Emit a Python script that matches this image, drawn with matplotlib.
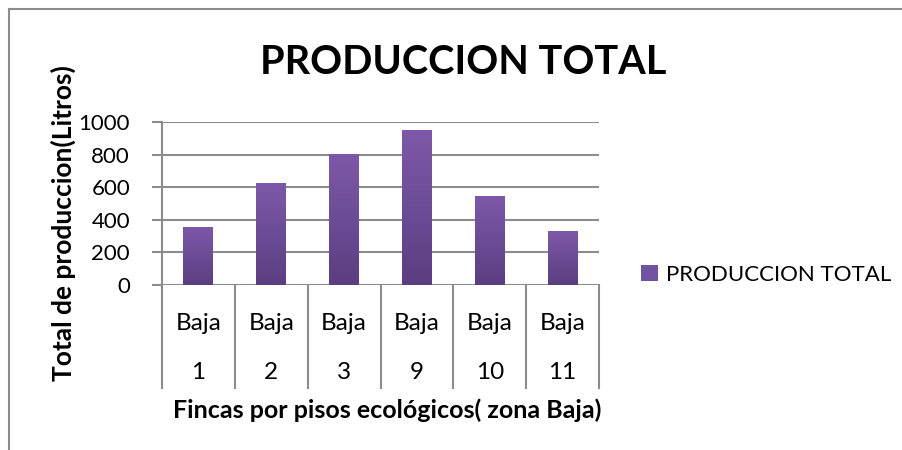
import numpy as np
import matplotlib
matplotlib.use("Agg")
import matplotlib.pyplot as plt
from matplotlib.colors import LinearSegmentedColormap
from matplotlib.lines import Line2D
from matplotlib.patches import Patch

plt.rcParams['font.family'] = ['Lato', 'DejaVu Sans']

zona = ["Baja", "Baja", "Baja", "Baja", "Baja", "Baja"]
fincas = ["1", "2", "3", "9", "10", "11"]
produccion = [350, 625, 800, 950, 540, 330]
y_ticks = [0, 200, 400, 600, 800, 1000]

fig = plt.figure(figsize=(9.02, 4.5), dpi=100)
ax = fig.add_axes([0.1796, 0.3667, 0.4845, 0.3622])

x = np.arange(len(fincas))
bars = ax.bar(x, produccion, width=0.41, color="#7152A0", zorder=3)

# vertical gradient inside each bar
cmap = LinearSegmentedColormap.from_list("morado", ["#5B3E80", "#6C4C96", "#7E58A8"])
grad = np.linspace(0, 1, 100).reshape(-1, 1)
for b in bars:
    x0, w, h = b.get_x(), b.get_width(), b.get_height()
    ax.imshow(grad, extent=[x0, x0 + w, 0, h], origin="lower", cmap=cmap,
              aspect="auto", zorder=4)

ax.set_xlim(-0.5, len(fincas) - 0.5)
ax.set_ylim(0, 1000)
ax.set_yticks(y_ticks)
ax.set_yticklabels([str(v) for v in y_ticks], fontsize=16)
ax.tick_params(axis="y", length=7, width=1.5, color="#8c8c8c", pad=16)
ax.set_xticks([])
ax.grid(axis="y", color="#8c8c8c", linewidth=1.5, zorder=1)
for s in ["top", "right", "bottom"]:
    ax.spines[s].set_visible(False)
ax.spines["left"].set_color("#8c8c8c")
ax.spines["left"].set_linewidth(1.5)

# category separators and two-level labels below the axis
trans = ax.get_xaxis_transform()
for xb in np.arange(-0.5, len(fincas), 1.0):
    ax.add_line(Line2D([xb, xb], [0, -0.63], transform=trans, color="#8c8c8c",
                       linewidth=1.5, clip_on=False))
for i in range(len(fincas)):
    ax.text(x[i], -0.235, zona[i], transform=trans, ha="center", va="center", fontsize=17.5)
    ax.text(x[i], -0.54, fincas[i], transform=trans, ha="center", va="center", fontsize=17.5)

fig.text(0.429, 0.089, "Fincas por pisos ecológicos( zona Baja)", ha="center", va="center",
         fontsize=18, fontweight="bold")
fig.text(0.07, 0.504, "Total de produccion(Litros)", ha="center", va="center",
         rotation=90, fontsize=19, fontweight="bold")
fig.text(0.513, 0.862, "PRODUCCION TOTAL", ha="center", va="center",
         fontsize=28.5, fontweight="bold")

fig.legend(handles=[Patch(facecolor="#7152A0", label="PRODUCCION TOTAL")],
           loc="center left", bbox_to_anchor=(0.711, 0.389), frameon=False,
           fontsize=16, handlelength=0.75, handleheight=0.75, handletextpad=0.35,
           borderpad=0, borderaxespad=0)

# chart border (top and left visible)
fig.add_artist(Line2D([0.010, 1.0], [0.979, 0.979], color="#8c8c8c", linewidth=1.5))
fig.add_artist(Line2D([0.010, 0.010], [0.0, 0.979], color="#8c8c8c", linewidth=1.5))

fig.savefig("out.png", dpi=100)
